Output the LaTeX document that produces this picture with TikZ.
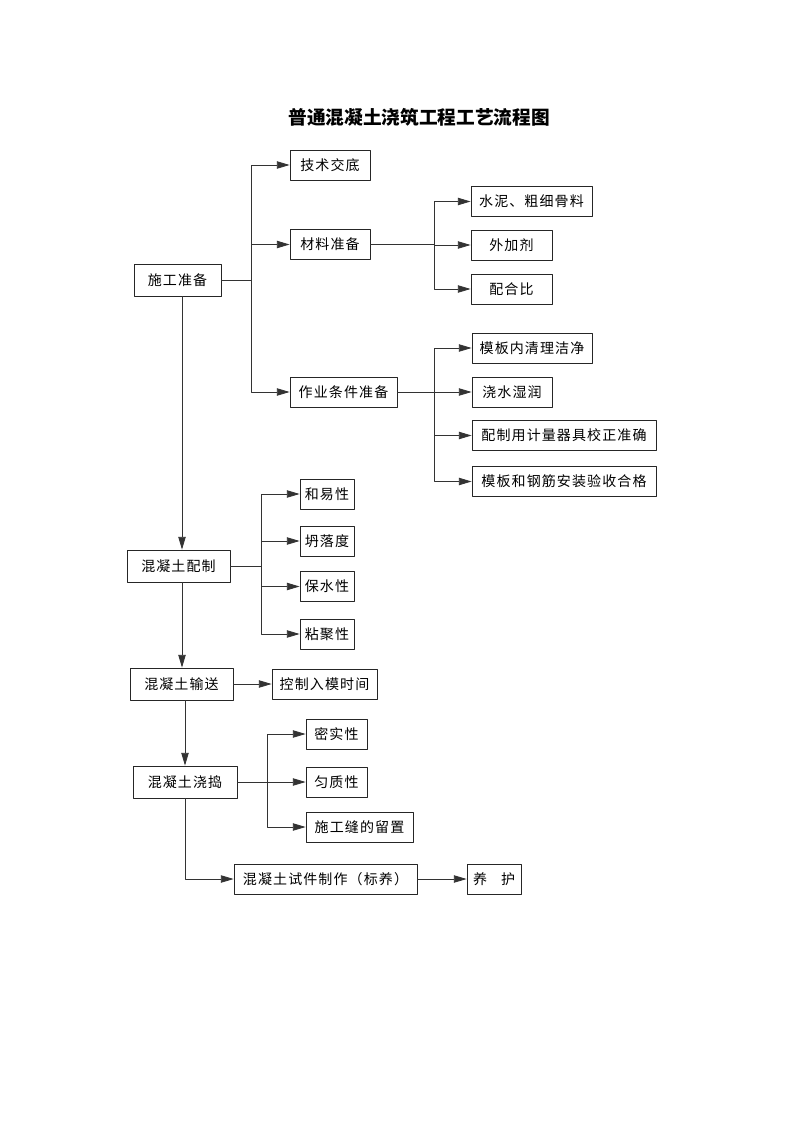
\documentclass[tikz,border=0pt]{standalone}
\usepackage{fontspec}
\setmainfont{Noto Sans CJK SC}
\newfontfamily\boxfont{Noto Sans CJK SC}[LetterSpace=8]
\usepackage{tikz}
\usetikzlibrary{arrows.meta}

\begin{document}
\begin{tikzpicture}[x=0.75pt, y=-0.75pt, line join=round,
  box/.style={draw=black!85, line width=0.6pt, inner sep=0pt,
    minimum height=22.5pt, font=\boxfont\fontsize{10.5pt}{12pt}\selectfont},
  wd/.style={minimum width=#1*0.75pt},
  link/.style={draw=black!80, line width=0.6pt},
  arr/.style={link, -{Triangle[length=9.5pt, width=5.5pt]}}]

  % page
  \useasboundingbox (0,0) rectangle (794,1123);

  % title
  \node[font=\bfseries\fontsize{14pt}{16pt}\selectfont] (title) at (419,117) {普通混凝土浇筑工程工艺流程图};

  % preparation
  \node[box, wd=87, minimum height=24pt] (prep) at (177.5,280) {施工准备};
  \node[box, wd=80]  (tech)     at (330,165)   {技术交底};
  \node[box, wd=80]  (material) at (330,244.5) {材料准备};
  \node[box, wd=107] (workcond) at (343.5,392) {作业条件准备};

  \node[box, wd=121] (cement) at (531.5,201.5) {水泥、粗细骨料};
  \node[box, wd=81]  (admix)  at (511.5,245)   {外加剂};
  \node[box, wd=81]  (ratio)  at (511.5,289)   {配合比};

  \node[box, wd=120] (clean)  at (532,348)   {模板内清理洁净};
  \node[box, wd=80]  (wet)    at (512,392)   {浇水湿润};
  \node[box, wd=184] (calib)  at (564,435.5) {配制用计量器具校正准确};
  \node[box, wd=184] (accept) at (564,481.5) {模板和钢筋安装验收合格};

  % mixing
  \node[box, wd=103, minimum height=24pt] (mix) at (178.5,566) {混凝土配制};
  \node[box, wd=54] (workab) at (327,494)   {和易性};
  \node[box, wd=54] (slump)  at (327,541)   {坍落度};
  \node[box, wd=54] (water)  at (327,586.5) {保水性};
  \node[box, wd=54] (cohes)  at (327,634)   {粘聚性};

  % transport
  \node[box, wd=103, minimum height=24pt] (transport) at (181.5,684) {混凝土输送};
  \node[box, wd=105] (timing) at (324.5,684) {控制入模时间};

  % pouring
  \node[box, wd=104, minimum height=24pt] (pour) at (185,782) {混凝土浇捣};
  \node[box, wd=61]  (dense)   at (336.5,734) {密实性};
  \node[box, wd=61]  (uniform) at (336.5,782) {匀质性};
  \node[box, wd=107] (joint)   at (359.5,827) {施工缝的留置};

  % specimen and curing
  \node[box, wd=183] (specimen) at (325.5,879) {混凝土试件制作（标养）};
  \node[box, wd=54]  (cure)     at (494,879)   {养\quad 护};

  % branch points
  \coordinate (busA) at (251,280);
  \coordinate (busB) at (434,244.5);
  \coordinate (busC) at (434,392);
  \coordinate (busD) at (261,566);
  \coordinate (busE) at (267,782);
  \coordinate (spine) at (182,0);
  \coordinate (spineB) at (185,0);

  % connectors
  \draw[link] (prep) -- (busA);
  \foreach \t in {tech, material, workcond}
    \draw[arr] (busA) |- (\t);

  \draw[link] (material) -- (busB);
  \foreach \t in {cement, admix, ratio}
    \draw[arr] (busB) |- (\t);

  \draw[link] (workcond) -- (busC);
  \foreach \t in {clean, wet, calib, accept}
    \draw[arr] (busC) |- (\t);

  \draw[arr] (prep.south -| spine) -- (mix.north -| spine);
  \draw[link] (mix) -- (busD);
  \foreach \t in {workab, slump, water, cohes}
    \draw[arr] (busD) |- (\t);

  \draw[arr] (mix.south -| spine) -- (transport.north -| spine);
  \draw[arr] (transport) -- (timing);

  \draw[arr] (transport.south -| spineB) -- (pour.north -| spineB);
  \draw[link] (pour) -- (busE);
  \foreach \t in {dense, uniform, joint}
    \draw[arr] (busE) |- (\t);

  \draw[arr] (pour.south -| spineB) |- (specimen);
  \draw[arr] (specimen) -- (cure);

\end{tikzpicture}
\end{document}
